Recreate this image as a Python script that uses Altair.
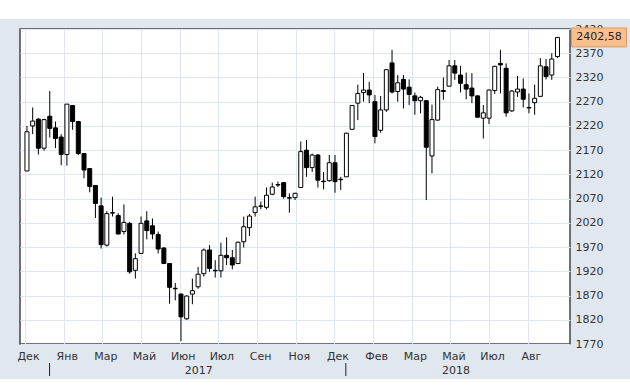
import json
import altair as alt
import pandas as pd

# ---- data (weekly candles, index 0 = first week shown) ----
opens = [2127, 2220, 2234, 2174, 2240, 2216, 2197, 2161, 2262, 2229,
         2163, 2132, 2097, 2055, 1974, 2040, 2035, 2002, 2019, 1922,
         1957, 2024, 2014, 1996, 1968, 1936, 1885, 1873, 1822, 1873,
         1888, 1915, 1964, 1922, 1921, 1953, 1948, 1936, 1981, 2010,
         2041, 2054, 2052, 2079, 2098, 2103, 2072, 2072, 2093, 2170,
         2134, 2160, 2106, 2107, 2144, 2110, 2115, 2213, 2267, 2289,
         2294, 2270, 2211, 2253, 2350, 2291, 2316, 2300, 2282, 2272,
         2272, 2158, 2232, 2293, 2302, 2344, 2325, 2305, 2298, 2282,
         2236, 2236, 2293, 2349, 2339, 2251, 2290, 2296, 2258, 2268,
         2281, 2342, 2325, 2363]
highs = [2220, 2258, 2236, 2235, 2292, 2229, 2203, 2265, 2263, 2230,
         2164, 2133, 2098, 2072, 2044, 2074, 2040, 2058, 2022, 1957,
         2033, 2044, 2029, 2002, 1970, 1937, 1896, 1874, 1870, 1905,
         1929, 1967, 1974, 1943, 1979, 1990, 1964, 1981, 2033, 2038,
         2074, 2064, 2093, 2103, 2105, 2104, 2081, 2082, 2188, 2191,
         2163, 2162, 2125, 2160, 2160, 2115, 2206, 2263, 2305, 2329,
         2311, 2284, 2282, 2337, 2377, 2325, 2325, 2316, 2289, 2282,
         2273, 2264, 2301, 2320, 2356, 2356, 2344, 2330, 2329, 2283,
         2263, 2295, 2344, 2377, 2349, 2294, 2323, 2318, 2287, 2305,
         2360, 2358, 2370, 2402.58]
lows = [2127, 2203, 2161, 2169, 2196, 2174, 2139, 2138, 2212, 2160,
        2112, 2083, 2030, 1967, 1971, 2033, 1996, 1996, 1915, 1905,
        1957, 1986, 1986, 1957, 1935, 1853, 1860, 1776, 1820, 1852,
        1884, 1909, 1919, 1907, 1907, 1933, 1924, 1935, 1969, 1993,
        2033, 2048, 2048, 2077, 2094, 2070, 2041, 2067, 2093, 2115,
        2125, 2093, 2089, 2105, 2082, 2088, 2115, 2212, 2232, 2270,
        2267, 2184, 2206, 2249, 2287, 2270, 2256, 2263, 2243, 2246,
        2067, 2122, 2231, 2274, 2301, 2315, 2289, 2275, 2267, 2237,
        2194, 2224, 2286, 2287, 2239, 2249, 2280, 2258, 2246, 2243,
        2280, 2316, 2315, 2360]
closes = [2208, 2230, 2174, 2233, 2215, 2194, 2161, 2265, 2229, 2163,
          2129, 2095, 2060, 1975, 2039, 2041, 1997, 2021, 1919, 1946,
          2019, 2004, 1997, 1966, 1936, 1887, 1884, 1826, 1869, 1880,
          1914, 1964, 1926, 1921, 1953, 1948, 1933, 1980, 2012, 2034,
          2053, 2055, 2077, 2094, 2099, 2074, 2071, 2081, 2167, 2134,
          2160, 2108, 2105, 2144, 2105, 2109, 2205, 2262, 2287, 2294,
          2284, 2198, 2253, 2336, 2290, 2309, 2296, 2285, 2272, 2279,
          2176, 2233, 2295, 2291, 2344, 2329, 2308, 2296, 2282, 2238,
          2247, 2294, 2343, 2346, 2247, 2292, 2296, 2275, 2257, 2277,
          2344, 2322, 2358, 2402.58]

month_labels = ["Дек", "Янв", "Мар", "Май", "Июн", "Июл", "Сен", "Ноя",
                "Дек", "Фев", "Мар", "Май", "Июл", "Авг"]
month_pos = [-0.34, 6.44, 13.22, 20.0, 26.78, 33.56, 40.34, 47.12,
             53.9, 60.68, 67.46, 74.24, 81.02, 87.8]
year_labels = ["2017", "2018"]
year_pos = [30.1, 75.2]
year_sep_pos = [3.96, 55.9]
y_ticks = [1770, 1820, 1870, 1920, 1970, 2020, 2070, 2120, 2170,
           2220, 2270, 2320, 2370, 2420]
last_label = "2402,58"

FONT = "DejaVu Sans"
W, H = 550, 315

df = pd.DataFrame({"x": list(range(len(opens))), "open": opens,
                   "high": highs, "low": lows, "close": closes})
df_year = pd.DataFrame({"x": year_pos, "label": year_labels})
df_sep = pd.DataFrame({"x": year_sep_pos})
df_last = pd.DataFrame({"close": [closes[-1]], "label": [last_label]})
one = pd.DataFrame({"a": [0]})

label_expr = (json.dumps(month_labels, ensure_ascii=False)
              + "[indexof(" + json.dumps(month_pos) + ", datum.value)]")

xscale = alt.Scale(domain=[-0.344, 94.32], nice=False, zero=False)
yscale = alt.Scale(domain=[1770, 2420], nice=False, zero=False)

x_axis = alt.Axis(title=None, values=month_pos, labelExpr=label_expr,
                  grid=True, gridColor="#dde7f4", gridWidth=1,
                  ticks=False, domain=False, labelFlush=False,
                  labelOverlap=False, labelOffset=3, labelPadding=6,
                  labelFont=FONT, labelFontSize=11, labelColor="#333333")
y_axis = alt.Axis(title=None, orient="right", values=y_ticks, format="d",
                  grid=True, gridColor="#dde7f4", gridWidth=1,
                  ticks=False, domain=False, labelOverlap=False,
                  labelFlush=False, labelBound=False,
                  labelPadding=5, labelFont=FONT, labelFontSize=11,
                  labelColor="#333333", labelAlign="left")


def X(field):
    return alt.X(field, scale=xscale, axis=x_axis)


def Y(field):
    return alt.Y(field, scale=yscale, axis=y_axis)


white_top = alt.Chart(one).mark_rect(color="white").encode(
    x=alt.value(-30), x2=alt.value(W + 80), y=alt.value(-40), y2=alt.value(-10))
white_bot = alt.Chart(one).mark_rect(color="white").encode(
    x=alt.value(-30), x2=alt.value(W + 80), y=alt.value(H + 35), y2=alt.value(H + 60))

wicks = alt.Chart(df).mark_rule(color="black", strokeWidth=1).encode(
    x=X("x:Q"), y=Y("low:Q"), y2="high:Q",
)
bodies = alt.Chart(df).mark_bar(size=4, stroke="black", strokeWidth=1).encode(
    x=X("x:Q"), y=Y("open:Q"), y2="close:Q",
    fill=alt.condition("datum.close >= datum.open", alt.value("white"), alt.value("black")),
)
seps = alt.Chart(df_sep).mark_rule(color="#222222", strokeWidth=1).encode(
    x=X("x:Q"), y=alt.value(H + 19), y2=alt.value(H + 32))
years = alt.Chart(df_year).mark_text(font=FONT, fontSize=11, color="#333333",
                                     baseline="middle").encode(
    x=X("x:Q"), y=alt.value(H + 27), text="label:N")

box_shape = "M-1,-0.345L1,-0.345L1,0.345L-1,0.345Z"
box = alt.Chart(df_last).mark_point(shape=box_shape, size=3025, filled=True,
                                    fill="#fbbf8e", stroke="#e39a5c",
                                    strokeWidth=1, opacity=1).encode(
    x=alt.value(W + 29), y=Y("close:Q"))
box_text = alt.Chart(df_last).mark_text(font=FONT, fontSize=11, color="#222222",
                                        baseline="middle").encode(
    x=alt.value(W + 29), y=Y("close:Q"), text="label:N")

chart = alt.layer(white_top, white_bot, wicks, bodies, seps, years, box, box_text).properties(
    width=W, height=H,
    autosize=alt.AutoSizeParams(type="none"),
    padding={"left": 20, "top": 29, "right": 60, "bottom": 43},
    background="#e1e7ef",
).configure_view(fill="white", stroke="#444444", strokeWidth=1.5)

chart.save("out.html", embed_options={"renderer": "svg", "actions": False})
